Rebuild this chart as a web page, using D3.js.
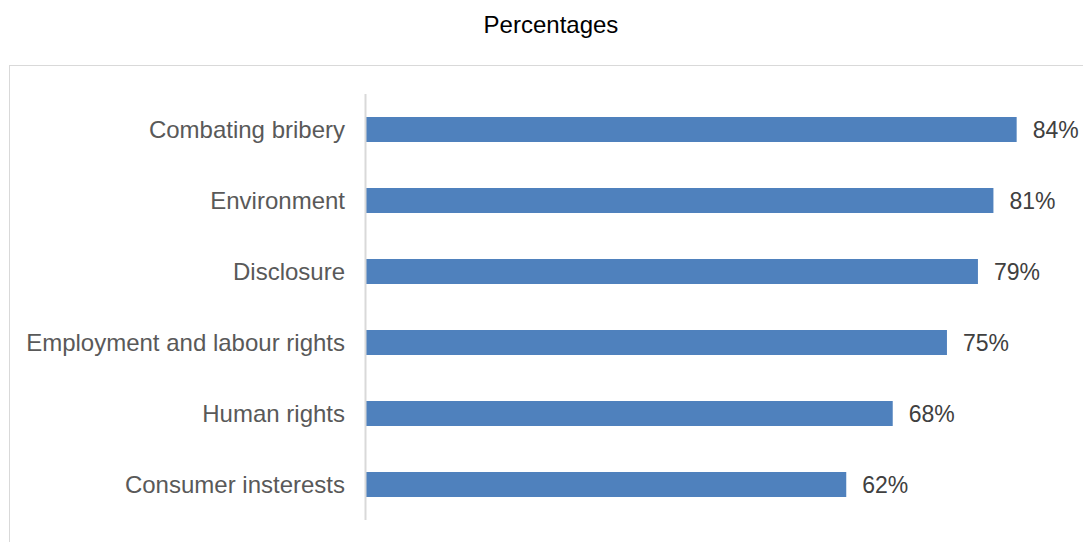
<!DOCTYPE html>
<html>
<head>
<meta charset="utf-8">
<script src="https://cdn.jsdelivr.net/npm/d3@7"></script>
<style>
  html, body { margin: 0; padding: 0; background: #fff; }
  svg { display: block; font-family: "Liberation Sans", Arial, sans-serif; }
</style>
</head>
<body>
<svg id="chart" width="1083" height="542"></svg>
<script>
// Share of respondents by issue area
const categories = [
  "Combating bribery",
  "Environment",
  "Disclosure",
  "Employment and labour rights",
  "Human rights",
  "Consumer insterests"
];
const values = [84, 81, 79, 75, 68, 62];
const title = "Percentages";

const svg = d3.select("#chart");

// outer frame of the plot area (runs past the right and bottom edges)
svg.append("rect")
  .attr("x", 9.5).attr("y", 65.5)
  .attr("width", 1100).attr("height", 500)
  .attr("fill", "none")
  .attr("stroke", "#d9d9d9")
  .attr("stroke-width", 1);

svg.append("text")
  .attr("x", 551).attr("y", 33)
  .attr("text-anchor", "middle")
  .attr("font-size", 24)
  .attr("fill", "#000")
  .text(title);

const x = d3.scaleLinear().domain([0, 100]).range([366, 366 + 774.6]);
const y = d3.scaleBand().domain(categories).range([94, 520]).paddingInner(0.648).paddingOuter(0.324);

// bars
svg.append("g").selectAll("rect")
  .data(categories)
  .join("rect")
  .attr("x", x(0))
  .attr("y", d => y(d))
  .attr("width", (d, i) => x(values[i]) - x(0))
  .attr("height", y.bandwidth())
  .attr("fill", "#4f81bd");

// category axis line
svg.append("line")
  .attr("x1", 365.5).attr("x2", 365.5)
  .attr("y1", 94).attr("y2", 520)
  .attr("stroke", "#d9d9d9")
  .attr("stroke-width", 2);

// category labels
svg.append("g").selectAll("text")
  .data(categories)
  .join("text")
  .attr("x", 345)
  .attr("y", d => y(d) + y.bandwidth() / 2)
  .attr("dy", "0.36em")
  .attr("text-anchor", "end")
  .attr("font-size", 24)
  .attr("fill", "#595959")
  .text(d => d);

// value labels
svg.append("g").selectAll("text")
  .data(categories)
  .join("text")
  .attr("x", (d, i) => x(values[i]) + 16)
  .attr("y", d => y(d) + y.bandwidth() / 2)
  .attr("dy", "0.36em")
  .attr("font-size", 23)
  .attr("fill", "#404040")
  .text((d, i) => values[i] + "%");
</script>
</body>
</html>
